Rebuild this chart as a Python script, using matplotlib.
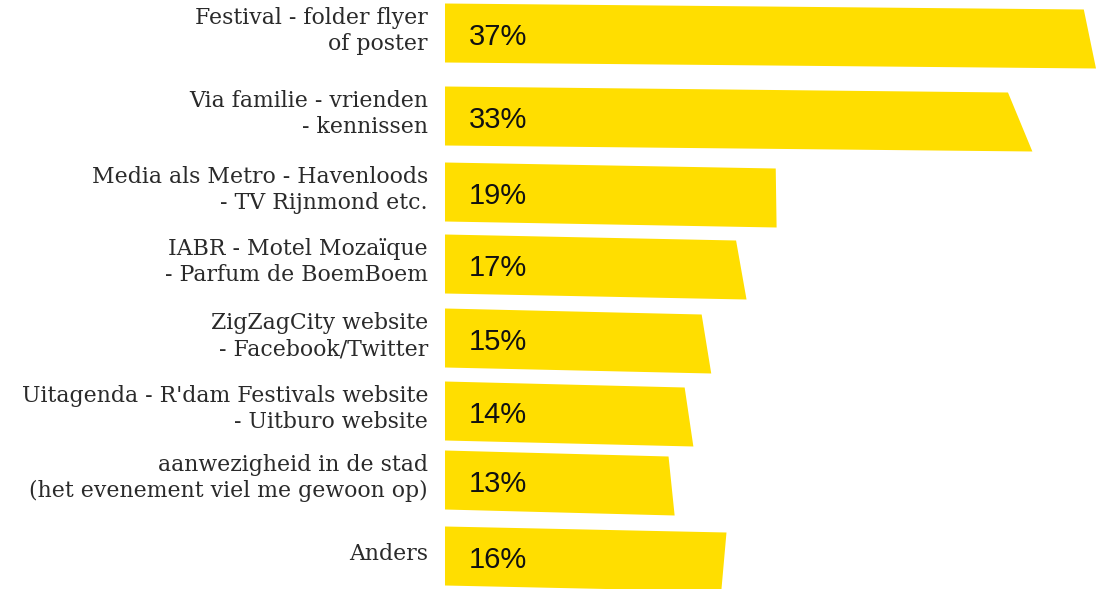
import matplotlib
matplotlib.use('Agg')
import matplotlib.pyplot as plt
from matplotlib import patches

# data
CATEGORIES = [
    'Festival - folder flyer\nof poster',
    'Via familie - vrienden\n- kennissen',
    'Media als Metro - Havenloods\n- TV Rijnmond etc.',
    'IABR - Motel Mozaïque\n- Parfum de BoemBoem',
    'ZigZagCity website\n- Facebook/Twitter',
    "Uitagenda - R'dam Festivals website\n- Uitburo website",
    'aanwezigheid in de stad\n(het evenement viel me gewoon op)',
    'Anders',
]
PERCENTS = [37, 33, 19, 17, 15, 14, 13, 16]

# layout: row centres (pixels from top) and right-edge slant for the hand-cut look
ROW_CENTERS = [33, 116, 192, 264, 338, 411, 480, 556]
SLANTS = [0.7, 1.4, 0.05, 0.6, 0.55, 0.5, 0.35, -0.3]
YELLOW = '#FFDE00'
BAR_H = 59
DROP = 6  # small downward tilt of the bars

W, H = 1096, 589
fig = plt.figure(figsize=(W / 100, H / 100), dpi=100)
ax = fig.add_axes([445 / W, 0, 1 - 445 / W, 1])
ax.set_xlim(0, 37.35)
ax.set_ylim(H, 0)
ax.axis('off')

for cat, val, sl, yc in zip(CATEGORIES, PERCENTS, SLANTS, ROW_CENTERS):
    top = yc - BAR_H / 2
    bot = yc + BAR_H / 2
    poly = patches.Polygon(
        [(0, top), (val - sl / 2, top + DROP),
         (val + sl / 2, bot + DROP), (0, bot)],
        closed=True, facecolor=YELLOW, edgecolor='none')
    ax.add_patch(poly)
    ax.annotate(f'{val}%', xy=(0, yc), xytext=(24, -4),
                textcoords='offset pixels', ha='left', va='center',
                fontsize=21, family='Liberation Sans', color='#111111')
    ax.annotate(cat, xy=(0, yc), xytext=(-17, 2),
                textcoords='offset pixels', ha='right', va='center',
                fontsize=15.8, family='DejaVu Serif', color='#2a2a2a',
                linespacing=1.25, annotation_clip=False)

fig.savefig('out.png', dpi=100, facecolor='white')
